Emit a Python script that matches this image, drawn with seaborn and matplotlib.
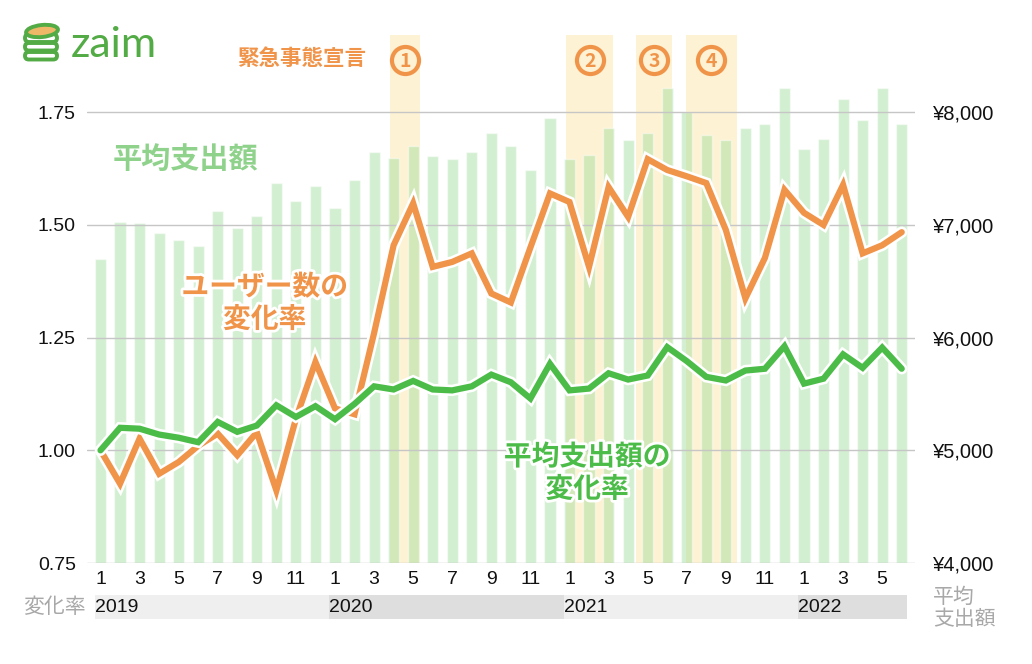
import numpy as np
import pandas as pd
import matplotlib
matplotlib.use("Agg")
import matplotlib.pyplot as plt
import matplotlib.patheffects as pe
from matplotlib.patches import Rectangle, Ellipse, FancyBboxPatch
import seaborn as sns

# data (Jan 2019 - Jun 2022)
months = list(range(1, 13)) * 3 + list(range(1, 7))
years = [2019, 2020, 2021, 2022]
avg_spend = [6700, 7030, 7015, 6925, 6865, 6810, 7120, 6970, 7080, 7370, 7210, 7350,
             7155, 7395, 7645, 7590, 7700, 7610, 7585, 7645, 7820, 7700,
             7485, 7945, 7585, 7625, 7860, 7750, 7820, 8220, 8000, 7795, 7750, 7865,
             7900, 8220, 7670, 7760, 8115, 7930, 8220, 7900]
users_rate = [1.00, 0.926, 1.026, 0.948, 0.974, 1.01, 1.037, 0.989, 1.04, 0.911, 1.07, 1.196,
              1.093, 1.08, 1.26, 1.455, 1.548, 1.407, 1.418, 1.437, 1.348, 1.328,
              1.45, 1.57, 1.551, 1.407, 1.584, 1.518, 1.646, 1.622, 1.608, 1.593, 1.489, 1.337,
              1.427, 1.578, 1.527, 1.50, 1.589, 1.437, 1.455, 1.484]
spend_rate = [1.00, 1.050, 1.048, 1.035, 1.028, 1.018, 1.063, 1.041, 1.055, 1.100, 1.074, 1.098,
              1.069, 1.103, 1.142, 1.135, 1.154, 1.135, 1.133, 1.142, 1.168, 1.151,
              1.115, 1.192, 1.133, 1.137, 1.171, 1.157, 1.166, 1.229, 1.198, 1.163, 1.155, 1.177,
              1.181, 1.231, 1.148, 1.159, 1.213, 1.183, 1.228, 1.181]
# state of emergency periods (Tokyo)
emergency = [("2020-04-07", "2020-05-25"), ("2021-01-08", "2021-03-21"),
             ("2021-04-25", "2021-06-20"), ("2021-07-12", "2021-09-30")]
emergency_no = ["1", "2", "3", "4"]

ORANGE = "#f0944a"
GREEN = "#4cbc48"
LIGHT_GREEN = "#8fd28b"
BAR = "#9fdc9b"
SHADE = "#fdf2d3"

df = pd.DataFrame({"idx": np.arange(len(months)), "spend": avg_spend,
                   "users": users_rate, "rate": spend_rate})


def date_to_pos(s):
    d = pd.Timestamp(s)
    return (d.year - 2019) * 12 + d.month - 1 - 0.4 + (d.day - 1) / d.days_in_month


sns.set_style("white")
plt.rcParams['font.family'] = ['Liberation Sans', 'Noto Sans CJK JP']
JP = ['Noto Sans CJK JP', 'DejaVu Sans']

fig = plt.figure(figsize=(10.32, 6.64), dpi=100)
ax = fig.add_axes([87 / 1032, 1 - 563 / 664, 828 / 1032, 528 / 664])
ax2 = ax.twinx()
ax.set_zorder(ax2.get_zorder() + 1)
ax.patch.set_visible(False)

# emergency shading + bars (right axis)
spans = [(date_to_pos(a), date_to_pos(b)) for a, b in emergency]
for a, b in spans:
    ax2.axvspan(a, b, color=SHADE, zorder=0, lw=0)
bw = 0.57
sns.barplot(data=df, x="idx", y="spend", ax=ax2, color=BAR, alpha=0.45,
            width=bw, saturation=1, zorder=1)

# lines (left axis)
def outline(w):
    return [pe.Stroke(linewidth=w, foreground="white", joinstyle="miter"), pe.Normal()]

sns.lineplot(data=df, x="idx", y="users", ax=ax, color=ORANGE, lw=4.5,
             solid_joinstyle="miter", path_effects=outline(8.2), zorder=3)
sns.lineplot(data=df, x="idx", y="rate", ax=ax, color=GREEN, lw=4.5,
             solid_joinstyle="miter", path_effects=outline(8.2), zorder=4)

n = len(months)
ax.set_xlim(-0.69, n - 1 + 0.68)
ax.set_ylim(0.75, 0.75 + 528 / 450.7)
ax2.set_ylim(4000, 4000 + 528 / 450.7 * 4000)

ax.set_yticks([0.75, 1.0, 1.25, 1.5, 1.75])
ax.set_yticklabels(["0.75", "1.00", "1.25", "1.50", "1.75"])
ax2.set_yticks([4000, 5000, 6000, 7000, 8000])
ax2.set_yticklabels(["¥4,000", "¥5,000", "¥6,000", "¥7,000", "¥8,000"])
xt = [i for i, m in enumerate(months) if m % 2 == 1]
ax.set_xticks(xt)
ax.set_xticklabels([str(months[i]) for i in xt])

ax2.grid(axis="y", color="#c6c6c6", lw=1)
ax2.set_axisbelow(False)
ax.grid(False)
for a_ in (ax, ax2):
    for s in a_.spines.values():
        s.set_visible(False)
    a_.set_xlabel("")
    a_.set_ylabel("")
ax.tick_params(axis="y", length=0, pad=8, labelsize=14, labelcolor="#111111")
ax.tick_params(axis="x", length=0, pad=6, labelsize=14, labelcolor="#111111")
ax2.tick_params(axis="y", length=0, pad=13, labelsize=14.5, labelcolor="#111111")

# year band under the axis
tr = ax.get_xaxis_transform()
for k, y in enumerate(years):
    start = k * 12 - bw / 2
    end = (k + 1) * 12 - bw / 2 if (k + 1) * 12 < n else n - 1 + bw / 2
    ax.add_patch(Rectangle((start, -0.106), end - start, 0.046, transform=tr,
                           color="#efefef" if k % 2 == 0 else "#dedede",
                           clip_on=False, lw=0, zorder=0))
    ax.text(start, -0.084, str(y), transform=tr, fontsize=14, va="center",
            ha="left", color="#111111")
fig.text(86 / 1032, 1 - 607 / 664, "変化率", family=JP, fontsize=15,
         color="#a8a8a8", ha="right", va="center")
fig.text(933 / 1032, 1 - 608 / 664, "平均\n支出額", family=JP, fontsize=15,
         color="#a8a8a8", ha="left", va="center", linespacing=1.05)

# annotations
white = [pe.withStroke(linewidth=4, foreground="white")]
ax.text(0.62, 1.647, "平均支出額", family=JP, fontsize=21, fontweight="bold",
        color=LIGHT_GREEN, ha="left", va="center", zorder=6)
ax.text(8.4, 1.326, "ユーザー数の\n変化率", family=JP, fontsize=20, fontweight="bold",
        color=ORANGE, ha="center", va="center", linespacing=1.2,
        path_effects=white, zorder=6)
ax.text(24.9, 0.949, "平均支出額の\n変化率", family=JP, fontsize=20, fontweight="bold",
        color=GREEN, ha="center", va="center", linespacing=1.2,
        path_effects=white, zorder=6)
ax.text(10.3, 1.869, "緊急事態宣言", family=JP, fontsize=15.5, fontweight="bold",
        color=ORANGE, ha="center", va="center", zorder=6)
for (a, b), lab in zip(spans, emergency_no):
    c = (a + b) / 2
    ax.plot([c], [1.865], marker="o", ms=19.5, mfc="none", mec=ORANGE, mew=3.0,
            zorder=6, clip_on=False)
    ax.text(c, 1.863, lab, family=JP, fontsize=14, fontweight="bold", color=ORANGE,
            ha="center", va="center", zorder=7)

# zaim logo
lg = fig.add_axes([21 / 1032, 1 - 63 / 664, 42 / 1032, 42 / 664])
lg.set_xlim(0, 42)
lg.set_ylim(42, 0)
lg.axis("off")
for yy in (31, 22):
    lg.add_patch(FancyBboxPatch((4, yy), 32, 7.5, boxstyle="round,pad=0,rounding_size=3.7",
                                fc="white", ec="#52ab45", lw=2.8))
lg.add_patch(FancyBboxPatch((4, 13), 32, 8, boxstyle="round,pad=0,rounding_size=4",
                            fc="white", ec="#52ab45", lw=2.8))
lg.add_patch(Ellipse((21, 10), 32, 12, angle=-6, fc="#efb868", ec="#52ab45", lw=2.8))
fig.text(71 / 1032, 1 - 57 / 664, "zaim", family="Lato", fontsize=31,
         color="#52ab45", ha="left", va="baseline")

fig.savefig("out.png", dpi=100)
